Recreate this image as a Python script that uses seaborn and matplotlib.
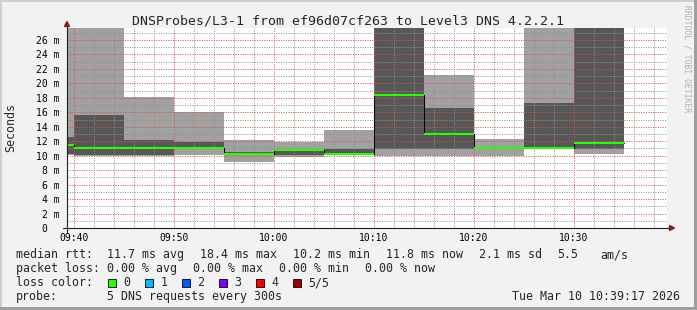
import matplotlib
matplotlib.use("Agg")
import matplotlib.pyplot as plt
from matplotlib.lines import Line2D
from matplotlib.patches import Rectangle, Polygon
from matplotlib.ticker import MultipleLocator, FixedLocator, FuncFormatter
import pandas as pd
import seaborn as sns

# ---------------- data ----------------
# 5-minute bins, start time in minutes after midnight (09:35 ... 10:30)
bin_start_min = [575, 580, 585, 590, 595, 600, 605, 610, 615, 620, 625, 630]
bin_len_min = 5
# five sorted DNS ping times per bin (ms); values above the top are clipped
ping_min = [10.15, 10.00, 10.00, 10.04, 9.15, 9.82, 10.15, 10.00, 10.00, 10.00, 10.95, 10.28]
ping_2nd = [10.18, 10.04, 10.04, 10.98, 10.15, 10.04, 10.20, 10.97, 10.97, 11.00, 11.00, 10.97]
ping_med = [11.43, 11.00, 11.00, 11.00, 10.25, 10.80, 10.20, 18.45, 13.04, 11.05, 11.05, 11.80]
ping_4th = [12.63, 15.67, 12.21, 11.84, 10.45, 10.95, 10.97, 30.00, 16.64, 11.10, 17.33, 30.00]
ping_max = [32.00, 32.00, 18.16, 15.99, 12.21, 11.84, 13.60, 32.00, 21.20, 12.35, 32.00, 32.00]

ytick_vals = [0, 2, 4, 6, 8, 10, 12, 14, 16, 18, 20, 22, 24, 26]
xtick_vals = [580, 590, 600, 610, 620, 630]

title = "DNSProbes/L3-1 from ef96d07cf263 to Level3 DNS 4.2.2.1"
ylabel = "Seconds"
rtt_items = ["median rtt:", "11.7 ms avg", "18.4 ms max", "10.2 ms min",
             "11.8 ms now", "2.1 ms sd", "5.5", "am/s"]
loss_items = ["packet loss:", "0.00 % avg", "0.00 % max", "0.00 % min", "0.00 % now"]
loss_names = ["0", "1", "2", "3", "4", "5/5"]
loss_colors = ["#26ff00", "#00b8ff", "#0059ff", "#7e00ff", "#ff0000", "#a10000"]
probe_label = "probe:"
probe_text = "5 DNS requests every 300s"
timestamp = "Tue Mar 10 10:39:17 2026"
watermark = "RRDTOOL / TOBI OETIKER"

# ---------------- layout ----------------
W, H, DPI = 697, 310, 100
L, T, PW, PH = 67, 28, 600, 200

sns.set_theme(style="white")
plt.rcParams["font.family"] = ["DejaVu Sans Mono", "DejaVu Sans"]

BACK = "#f2f2f2"
fig = plt.figure(figsize=(W / DPI, H / DPI), dpi=DPI, facecolor=BACK)


def fx(px):
    return px / W


def fy(py):
    return 1 - py / H


ax = fig.add_axes([fx(L), fy(T + PH), PW / W, PH / H])
ax.set_facecolor("white")

edges = bin_start_min + [bin_start_min[-1] + bin_len_min]


def ext(v):
    return list(v) + [v[-1]]


# smoke
ax.fill_between(edges, ext(ping_min), ext(ping_max), step="post",
                color="#a1a1a1", lw=0, zorder=1)
ax.fill_between(edges, ext(ping_2nd), ext(ping_4th), step="post",
                color="#575757", lw=0, zorder=1.1)

# median (black step + loss-coloured segments)
df = pd.DataFrame({"t": edges, "median": ext(ping_med)})
sns.lineplot(data=df, x="t", y="median", drawstyle="steps-post", color="black",
             lw=0.75, ax=ax, zorder=3, estimator=None)
ax.hlines(ping_med, bin_start_min, [s + bin_len_min for s in bin_start_min],
          colors=loss_colors[0], lw=1.5, zorder=4)

ax.set_xlim(579.3, 639.3)
ax.set_ylim(0, 27.66)
ax.set_xlabel("")
ax.set_ylabel("")

ax.xaxis.set_major_locator(FixedLocator(xtick_vals))
ax.xaxis.set_minor_locator(MultipleLocator(2))
ax.yaxis.set_major_locator(FixedLocator(ytick_vals))
ax.yaxis.set_minor_locator(MultipleLocator(1))
ax.xaxis.set_major_formatter(FuncFormatter(lambda v, p: f"{int(round(v)) // 60:02d}:{int(round(v)) % 60:02d}"))
ax.yaxis.set_major_formatter(FuncFormatter(lambda v, p: "0  " if v == 0 else f"{v:.0f} m"))

MGRID = (0.87, 0.31, 0.31, 0.4)
GRID = (0.56, 0.56, 0.56, 0.5)
ax.set_axisbelow(False)
ax.grid(which="major", color=MGRID, lw=0.72, linestyle=(0, (1, 1.4)))
ax.grid(which="minor", color=GRID, lw=0.72, linestyle=(0, (1, 1.4)))

ax.tick_params(which="major", direction="out", length=1.5, width=0.75, color=MGRID,
               labelsize=7, labelcolor="black")
ax.tick_params(which="minor", direction="out", length=1.5, width=0.75, color=GRID)
ax.tick_params(axis="y", which="major", pad=3.6)
ax.tick_params(axis="x", which="major", pad=2.0)
for s in ax.spines.values():
    s.set_visible(False)


# axes lines and arrows (in axes coordinates, from pixels)
def apx(x, y):
    return ((x - L) / PW, (T + PH - y) / PH)


AXIS = (0.12, 0.12, 0.12)
ARROW = (0.5, 0.12, 0.12)
x0, y0 = apx(63, 228)
x1, _ = apx(670, 228)
ax.add_line(Line2D([x0, x1], [y0, y0], transform=ax.transAxes, color=AXIS,
                   lw=0.8, clip_on=False, zorder=6))
xa, ya = apx(67, 232)
_, yb = apx(67, 25)
ax.add_line(Line2D([xa, xa], [ya, yb], transform=ax.transAxes, color=AXIS,
                   lw=0.8, clip_on=False, zorder=6))
ax.add_patch(Polygon([apx(67, 21.5), apx(64.5, 26.5), apx(69.5, 26.5)], closed=True,
                     transform=ax.transAxes, color=ARROW, clip_on=False, zorder=7))
ax.add_patch(Polygon([apx(674.5, 228), apx(669.5, 225.5), apx(669.5, 230.5)], closed=True,
                     transform=ax.transAxes, color=ARROW, clip_on=False, zorder=7))

# titles
fig.text(fx(347.5), fy(24), title, ha="center", va="baseline", fontsize=9.5)
fig.text(fx(10.7), fy(128), ylabel, rotation=90, ha="center", va="center", fontsize=8.4)
fig.text(fx(686.5), fy(5), watermark, rotation=270, ha="center", va="top",
         fontsize=5.8, color="#b0b0b0")

# legend
LF = 8.4
rtt_x = [16, 107.3, 200, 293.3, 386.3, 479.3, 557.7, 600.3]
for x, s in zip(rtt_x, rtt_items):
    fig.text(fx(x), fy(258.3), s, ha="left", va="baseline", fontsize=LF)
loss_x = [16, 107.3, 193.3, 279.3, 365.3]
for x, s in zip(loss_x, loss_items):
    fig.text(fx(x), fy(272.3), s, ha="left", va="baseline", fontsize=LF)
fig.text(fx(16), fy(286.3), "loss color:", ha="left", va="baseline", fontsize=LF)
sq_x = [108.3, 145.3, 182.3, 219.3, 256.3, 293.3]
for x, name, c in zip(sq_x, loss_names, loss_colors):
    fig.add_artist(Rectangle((fx(x), fy(286.5)), 8 / W, 8 / H, transform=fig.transFigure,
                             facecolor=c, edgecolor="black", lw=0.6))
    fig.text(fx(x + 15), fy(286.3), name, ha="left", va="baseline", fontsize=LF)
fig.text(fx(16), fy(300.3), probe_label, ha="left", va="baseline", fontsize=LF)
fig.text(fx(107.3), fy(300.3), probe_text, ha="left", va="baseline", fontsize=LF)
fig.text(fx(680.5), fy(300.3), timestamp, ha="right", va="baseline", fontsize=LF)

# frame shading
fig.add_artist(Rectangle((0, 1 - 2 / H), 1, 2 / H, transform=fig.transFigure, color="#cfcfcf", lw=0))
fig.add_artist(Rectangle((0, 0), 2 / W, 1, transform=fig.transFigure, color="#cfcfcf", lw=0))
fig.add_artist(Rectangle((0, 0), 1, 3 / H, transform=fig.transFigure, color="#9e9e9e", lw=0))
fig.add_artist(Rectangle((1 - 3 / W, 0), 3 / W, 1, transform=fig.transFigure, color="#9e9e9e", lw=0))

fig.savefig("out.png", dpi=DPI, facecolor=BACK)
